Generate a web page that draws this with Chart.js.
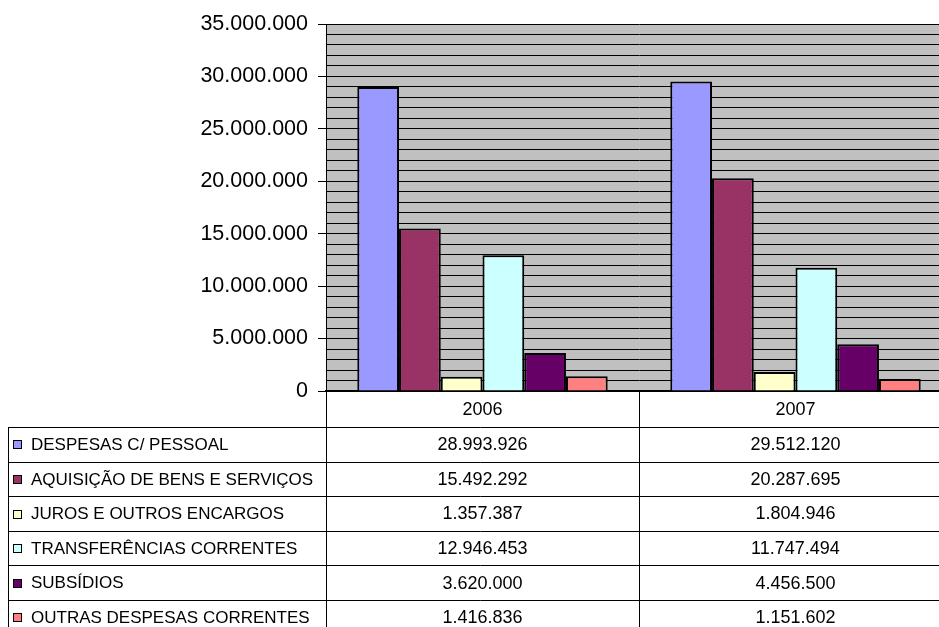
<!DOCTYPE html>
<html>
<head>
<meta charset="utf-8">
<script src="https://cdn.jsdelivr.net/npm/chart.js"></script>
<style>
  html, body { margin: 0; padding: 0; background: #fff; overflow: hidden; }
  #wrap { width: 960px; height: 627px; }
</style>
</head>
<body>
<div id="wrap"><canvas id="chart"></canvas></div>
<script>
// Dados
var categories = ["2006", "2007"];
var seriesNames = [
  "DESPESAS C/ PESSOAL",
  "AQUISIÇÃO DE BENS E SERVIÇOS",
  "JUROS E OUTROS ENCARGOS",
  "TRANSFERÊNCIAS CORRENTES",
  "SUBSÍDIOS",
  "OUTRAS DESPESAS CORRENTES"
];
var values2006 = [28993926, 15492292, 1357387, 12946453, 3620000, 1416836];
var values2007 = [29512120, 20287695, 1804946, 11747494, 4456500, 1151602];
var yTicks = [0, 5000000, 10000000, 15000000, 20000000, 25000000, 30000000, 35000000];

// Estilo
var colors = ["#9999FF", "#993366", "#FFFFCC", "#CCFFFF", "#660066", "#FF8080"];
var plot_bg = "#C0C0C0";
var font_family = "'Liberation Sans', Arial, sans-serif";

// formata 28993926 -> 28.993.926
function fmt(v) {
  return String(v).replace(/\B(?=(\d{3})+(?!\d))/g, ".");
}

var datasets = [];
for (var i = 0; i < seriesNames.length; i++) {
  datasets.push({
    label: seriesNames[i],
    data: [values2006[i], values2007[i]],
    backgroundColor: colors[i],
    borderColor: "#000",
    borderWidth: 2,
    categoryPercentage: 0.8,
    barPercentage: 1.0
  });
}

// fundo cinza + tabela de dados embaixo
var tablePlugin = {
  id: "dataTable",
  beforeDraw: function (chart) {
    var a = chart.chartArea, ctx = chart.ctx;
    ctx.save();
    ctx.fillStyle = plot_bg;
    ctx.fillRect(a.left, a.top, a.right - a.left, a.bottom - a.top);
    ctx.restore();
  },
  afterDraw: function (chart) {
    var ctx = chart.ctx, a = chart.chartArea, x = chart.scales.x;
    var c0 = x.getPixelForValue(0), c1 = x.getPixelForValue(1);
    var mid = Math.round((c0 + c1) / 2) + 0.5;
    var left = 8.5, rowTop = 427, rowH = 34.6, H = chart.height;
    var allValues = [values2006, values2007];
    var centers = [c0, c1];

    ctx.save();
    ctx.strokeStyle = "#000";
    ctx.lineWidth = 1;
    ctx.beginPath();
    ctx.moveTo(Math.round(a.left) + 0.5, a.bottom); ctx.lineTo(Math.round(a.left) + 0.5, H);
    ctx.moveTo(mid, a.bottom); ctx.lineTo(mid, H);
    ctx.moveTo(Math.round(a.right) - 0.5, a.top); ctx.lineTo(Math.round(a.right) - 0.5, H);
    ctx.moveTo(left, rowTop); ctx.lineTo(left, H);
    for (var k = 0; k <= seriesNames.length; k++) {
      var yy = Math.round(rowTop + k * rowH) + 0.5;
      ctx.moveTo(left, yy); ctx.lineTo(a.right, yy);
    }
    ctx.stroke();

    ctx.fillStyle = "#000";
    ctx.textBaseline = "middle";
    ctx.textAlign = "center";
    ctx.font = "18px " + font_family;
    for (var j = 0; j < categories.length; j++) {
      ctx.fillText(categories[j], centers[j], (a.bottom + rowTop) / 2 + 1);
    }

    for (var i = 0; i < seriesNames.length; i++) {
      var cy = rowTop + i * rowH + rowH / 2 + 1;
      // quadradinho da legenda
      ctx.fillStyle = colors[i];
      ctx.fillRect(13.5, Math.round(cy - 5) + 0.5, 8, 8);
      ctx.strokeRect(13.5, Math.round(cy - 5) + 0.5, 8, 8);
      ctx.fillStyle = "#000";
      ctx.textAlign = "left";
      ctx.font = "17px " + font_family;
      ctx.fillText(seriesNames[i], 31, cy);
      ctx.textAlign = "center";
      ctx.font = "18px " + font_family;
      for (var j2 = 0; j2 < categories.length; j2++) {
        ctx.fillText(fmt(allValues[j2][i]), centers[j2], cy);
      }
    }
    ctx.restore();
  }
};

new Chart(document.getElementById("chart"), {
  type: "bar",
  data: { labels: categories, datasets: datasets },
  plugins: [tablePlugin],
  options: {
    responsive: true,
    maintainAspectRatio: false,
    animation: false,
    layout: { padding: { top: 24, right: 8, left: 0, bottom: 0 } },
    plugins: { legend: { display: false }, tooltip: { enabled: false } },
    scales: {
      x: {
        ticks: { display: false },
        grid: { display: false },
        border: { display: true, color: "#000", width: 2 },
        afterFit: function (s) { s.height = 236; }
      },
      y: {
        min: 0,
        max: 35000000,
        ticks: {
          stepSize: 1000000,
          autoSkip: false,
          padding: 10,
          color: "#000",
          font: { family: font_family, size: 21.5 },
          callback: function (v) { return yTicks.indexOf(v) >= 0 ? fmt(v) : ""; }
        },
        grid: {
          color: "#000",
          lineWidth: 1,
          tickLength: 8,
          tickColor: function (c) {
            return (c.tick && yTicks.indexOf(c.tick.value) >= 0) ? "#000" : "rgba(0,0,0,0)";
          }
        },
        border: { display: true, color: "#000", width: 1 },
        afterFit: function (s) { s.width = 326; }
      }
    }
  }
});
</script>
</body>
</html>
